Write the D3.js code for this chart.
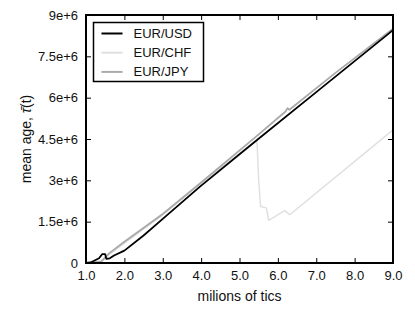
<!DOCTYPE html>
<html>
<head>
<meta charset="utf-8">
<script src="https://cdn.jsdelivr.net/npm/d3@7"></script>
<style>
  body { margin: 0; background: #fff; }
  text { font-family: "Liberation Sans", Arial, sans-serif; }
</style>
</head>
<body>
<div id="g"></div>
<script>
// data, x in millions of tics, y in units of 1e6
var usdX = [1.0, 1.12, 1.34, 1.42, 1.50, 1.53, 1.62, 1.73, 2.0, 2.5, 3.0, 3.97, 5.40, 7.0, 9.0];
var usdY = [0, 0.02, 0.17, 0.32, 0.32, 0.15, 0.17, 0.27, 0.45, 1.0, 1.60, 2.77, 4.40, 6.20, 8.45];

var chfX = [1.0, 1.4, 1.6, 2.0, 3.0, 4.0, 5.44, 5.46, 5.50, 5.55, 5.70, 5.76, 6.18, 6.31, 9.0];
var chfY = [0, 0.05, 0.30, 0.72, 1.75, 2.90, 4.45, 4.30, 3.00, 2.05, 2.00, 1.55, 1.90, 1.75, 4.83];

var jpyX = [1.0, 1.2, 1.4, 1.6, 2.0, 3.0, 4.0, 5.4, 6.2, 6.25, 6.3, 7.5, 9.0];
var jpyY = [0, 0.02, 0.06, 0.35, 0.77, 1.78, 2.92, 4.55, 5.50, 5.62, 5.56, 6.90, 8.50];

var seriesNames = ["EUR/USD", "EUR/CHF", "EUR/JPY"];
var xTicks = [1, 2, 3, 4, 5, 6, 7, 8, 9];
var yTicks = [0, 1.5, 3, 4.5, 6, 7.5, 9];
var yTickLabels = ["0", "1.5e+6", "3e+6", "4.5e+6", "6e+6", "7.5e+6", "9e+6"];

var WIDTH = 415, HEIGHT = 311;
var margin = {left: 86, right: 22, top: 15, bottom: 48};
var w = WIDTH - margin.left - margin.right;
var h = HEIGHT - margin.top - margin.bottom;

var svg = d3.select("#g").append("svg")
    .attr("width", WIDTH)
    .attr("height", HEIGHT);

var g = svg.append("g")
    .attr("transform", "translate(" + margin.left + "," + margin.top + ")");

var x = d3.scaleLinear().domain([1, 9]).range([0, w]);
var y = d3.scaleLinear().domain([0, 9]).range([h, 0]);

function zipSeries(xs, ys) {
    return xs.map(function(d, i) { return [d, ys[i]]; });
}

var series = [
    {name: seriesNames[0], pts: zipSeries(usdX, usdY), color: "#000", width: 1.8},
    {name: seriesNames[1], pts: zipSeries(chfX, chfY), color: "#e0e0e0", width: 1.5},
    {name: seriesNames[2], pts: zipSeries(jpyX, jpyY), color: "#aaaaaa", width: 1.8}
];

var line = d3.line()
    .x(function(d) { return x(d[0]); })
    .y(function(d) { return y(d[1]); });

// draw chf first, then jpy, then usd on top
[1, 2, 0].forEach(function(i) {
    var s = series[i];
    g.append("path")
        .attr("d", line(s.pts))
        .attr("fill", "none")
        .attr("stroke", s.color)
        .attr("stroke-width", s.width)
        .attr("stroke-linejoin", "round");
});

/* ------------axes----------------- */
var axBottom = g.append("g")
    .attr("transform", "translate(0," + h + ")")
    .call(d3.axisBottom(x).tickValues(xTicks).tickSizeInner(-5).tickSizeOuter(0)
        .tickPadding(8).tickFormat(d3.format(".1f")));

var axTop = g.append("g")
    .call(d3.axisTop(x).tickValues(xTicks).tickSizeInner(-5).tickSizeOuter(0).tickFormat(""));

var axLeft = g.append("g")
    .call(d3.axisLeft(y).tickValues(yTicks).tickSizeInner(-5).tickSizeOuter(0)
        .tickPadding(8).tickFormat(function(d, i) { return yTickLabels[i]; }));

var axRight = g.append("g")
    .attr("transform", "translate(" + w + ",0)")
    .call(d3.axisRight(y).tickValues(yTicks).tickSizeInner(-5).tickSizeOuter(0).tickFormat(""));

[axBottom, axTop, axLeft, axRight].forEach(function(a) {
    a.select(".domain").remove();
    a.selectAll(".tick line").attr("stroke", "#000").attr("stroke-width", 1);
    a.selectAll(".tick text")
        .attr("font-size", 13)
        .attr("fill", "#111")
        .style("font-family", "'Liberation Sans', Arial, sans-serif");
});

g.append("rect")
    .attr("x", 0).attr("y", 0)
    .attr("width", w).attr("height", h)
    .attr("fill", "none")
    .attr("stroke", "#000")
    .attr("stroke-width", 2);

/* ------------labels----------------- */
svg.append("text")
    .attr("x", margin.left + w / 2)
    .attr("y", 301)
    .attr("text-anchor", "middle")
    .attr("font-size", 14)
    .attr("fill", "#111")
    .text("milions of tics");

var ylab = svg.append("text")
    .attr("transform", "translate(31," + (margin.top + h / 2) + ") rotate(-90)")
    .attr("text-anchor", "middle")
    .attr("font-size", 14)
    .attr("fill", "#111");
ylab.append("tspan").text("mean age, ");
ylab.append("tspan").attr("font-style", "italic").text("\u03c4\u0304");
ylab.append("tspan").text("(t)");

/* ------------legend----------------- */
var legend = svg.append("g").attr("transform", "translate(93.5,22.5)");
legend.append("rect")
    .attr("width", 110).attr("height", 59)
    .attr("fill", "#fff")
    .attr("stroke", "#000")
    .attr("stroke-width", 1.5);

series.forEach(function(s, i) {
    var ly = 11 + i * 19.2;
    legend.append("line")
        .attr("x1", 8).attr("x2", 29)
        .attr("y1", ly).attr("y2", ly)
        .attr("stroke", s.color)
        .attr("stroke-width", 2);
    legend.append("text")
        .attr("x", 40).attr("y", ly + 4.5)
        .attr("font-size", 13)
        .attr("fill", "#111")
        .text(s.name);
});
</script>
</body>
</html>
